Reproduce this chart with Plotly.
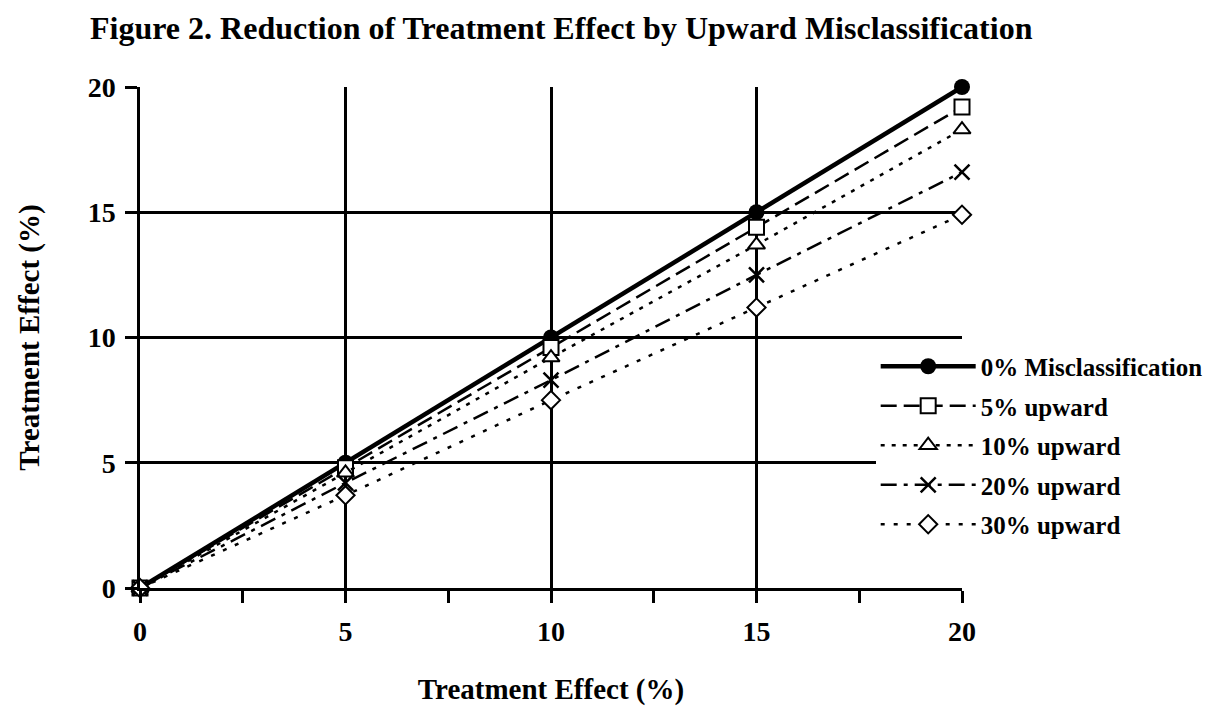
import plotly.graph_objects as go

x_vals = [0, 5, 10, 15, 20]
s0 = [0, 5, 10, 15, 20]
s5 = [0, 4.8, 9.6, 14.4, 19.2]
s10 = [0, 4.6, 9.2, 13.7, 18.3]
s20 = [0, 4.2, 8.3, 12.5, 16.6]
s30 = [0, 3.7, 7.5, 11.2, 14.9]
names = ["0% Misclassification", "5% upward", "10% upward", "20% upward", "30% upward"]
tick_vals = [0, 5, 10, 15, 20]
tick_text = ["0", "5", "10", "15", "20"]
minor_vals = [2.5, 7.5, 12.5, 17.5]

FONT = "Liberation Serif"
fig = go.Figure()

styles = [
    dict(data=s0, dash="solid", width=4.5, symbol="circle", mcolor="black", size=16, mline=0),
    dict(data=s5, dash="16px,7px", width=2.5, symbol="square", mcolor="white", size=15, mline=2),
    dict(data=s10, dash="4px,7px", width=2.5, symbol="triangle-up", mcolor="white", size=15, mline=2),
    dict(data=s20, dash="16px,7px,4px,7px", width=2.5, symbol="x-thin", mcolor="black", size=15, mline=2.5),
    dict(data=s30, dash="4px,9px", width=2.5, symbol="diamond", mcolor="white", size=14, mline=2),
]
for i, (nm, st) in enumerate(zip(names, styles)):
    fig.add_trace(go.Scatter(
        x=x_vals, y=st["data"], name=f"<b>{nm}</b>", mode="lines+markers",
        legendgroup=f"g{i}",
        line=dict(color="black", width=st["width"], dash=st["dash"]),
        marker=dict(symbol=st["symbol"], size=st["size"], color=st["mcolor"],
                    line=dict(color="black", width=st["mline"])),
        cliponaxis=False,
    ))

fig.update_layout(
    width=1209, height=699,
    margin=dict(l=132, r=255, t=79, b=119, autoexpand=False),
    paper_bgcolor="white", plot_bgcolor="white",
    font=dict(family=FONT, color="black", size=24),
    title=dict(text="<b>Figure 2. Reduction of Treatment Effect by Upward Misclassification</b>",
               x=82/1209, xref="container", xanchor="left",
               y=1-20/699, yref="container", yanchor="middle",
               font=dict(family=FONT, size=32, color="black")),
    legend=dict(x=0.895, y=0.488, xanchor="left", yanchor="top",
                bgcolor="white", font=dict(family=FONT, size=25, color="black"),
                itemwidth=95, tracegroupgap=4, borderwidth=0),
    showlegend=True,
)
fig.update_xaxes(
    range=[0, 20], tickvals=tick_vals, ticktext=[f"<b>{t}</b>" for t in tick_text],
    showgrid=True, gridcolor="black", gridwidth=2.5, zeroline=False,
    showline=True, linecolor="black", linewidth=2.5, automargin=False,
    ticks="outside", ticklen=12, tickwidth=2.5, tickcolor="black",
    ticklabelstandoff=5, tickfont=dict(size=28),
    minor=dict(tickvals=minor_vals, ticks="outside", ticklen=12, tickwidth=2.5, tickcolor="black", showgrid=False),
    title=dict(text="<b>Treatment Effect (%)</b>", font=dict(size=29), standoff=33),
)
fig.update_yaxes(
    range=[0, 20], tickvals=tick_vals, ticktext=[f"<b>{t}</b>" for t in tick_text],
    showgrid=True, gridcolor="black", gridwidth=2.5, zeroline=False,
    showline=True, linecolor="black", linewidth=2.5, automargin=False,
    ticks="outside", ticklen=12, tickwidth=2.5, tickcolor="black",
    ticklabelstandoff=4, tickfont=dict(size=28),
    title=dict(text="<b>Treatment Effect (%)</b>", font=dict(size=29), standoff=40),
)
fig.write_html("out.html")
